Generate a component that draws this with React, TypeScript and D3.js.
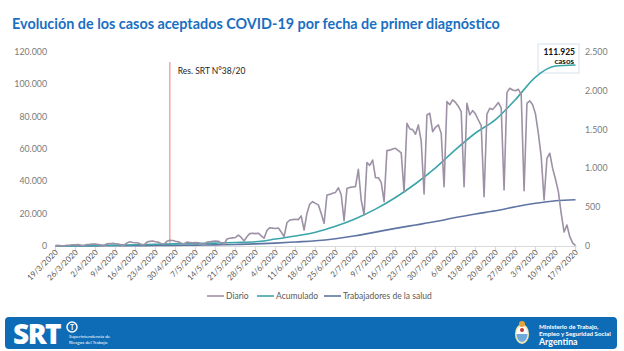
import React, { useRef, useEffect } from "react";
import * as d3 from "d3";

// daily cases (right axis), one value per day starting 19/3/2020
const diario = [
  5, 8, 4, 2,
  10, 12, 15, 14, 18, 10, 5,
  20, 22, 25, 24, 20, 12, 8,
  28, 30, 35, 30, 25, 15, 10,
  40, 55, 45, 42, 38, 20, 15,
  50, 60, 65, 55, 50, 30, 25,
  60, 75, 70, 60, 55, 35, 30,
  50, 45, 40, 45, 42, 30, 25,
  50, 55, 60, 65, 62, 40, 25,
  90, 100, 105, 110, 140, 110, 65,
  120, 160, 165, 160, 165, 130, 100,
  200, 236, 230, 225, 232, 180, 120,
  300, 335, 340, 345, 340, 387, 206,
  420, 540, 571, 550, 530, 420, 292,
  657, 665, 680, 690, 750, 660, 326,
  740, 755, 760, 765, 988, 593, 400,
  1074, 1040, 1108, 880, 880, 820, 571,
  1229, 1235, 1250, 1259, 1229, 1200, 700,
  1581, 1508, 1500, 1440, 1560, 1350, 670,
  1689, 1710, 1473, 1530, 1560, 1450, 765,
  1860, 1820, 1882, 1850, 1800, 1731, 765,
  1839, 1689, 1745, 1700, 1624, 1550, 636,
  1700, 1775, 1760, 1800, 1848, 1780, 722,
  1977, 2033, 2010, 2000, 2020, 1950, 713,
  1839, 1870, 1820, 1700, 1450, 1151, 593,
  1130, 1195, 1000, 860, 700, 420, 180,
  271, 120, 40, 5,
];

// weekly tick dates (day/month, 2020)
const tickDates = [
  "19/3", "26/3", "2/4", "9/4", "16/4", "23/4", "30/4", "7/5", "14/5",
  "21/5", "28/5", "4/6", "11/6", "18/6", "25/6", "2/7", "9/7", "16/7",
  "23/7", "30/7", "6/8", "13/8", "20/8", "27/8", "3/9", "10/9", "17/9",
];

// cumulative cases (left axis), read at each weekly tick date
const acumulado = [
  10, 150, 350, 550, 800, 1050, 1300, 1550, 1800, 2150, 2600, 4300, 6200,
  8500, 12200, 16900, 22800, 30000, 38500, 48300, 59600, 69900, 78200,
  90600, 104500, 111300, 111925,
];

// cumulative health workers (left axis), read at each weekly tick date
const trabajadores = [
  0, 30, 80, 150, 220, 300, 380, 520, 700, 950, 1300, 1800, 2500, 3200,
  4500, 6300, 8600, 10900, 13000, 15100, 17600, 19800, 21800, 24300,
  26400, 28000, 28600,
];

const leftTicks = [0, 20000, 40000, 60000, 80000, 100000, 120000];
const rightTicks = [0, 500, 1000, 1500, 2000, 2500];
const legendNames = ["Diario", "Acumulado", "Trabajadores de la salud"];
const resDate = "28/4";
const resLabel = "Res. SRT N°38/20";
const totalLabel = ["111.925", "casos"];

const colors = ["#9d91a5", "#3ba5aa", "#5f74a2"];
const font = "Lato, 'Open Sans', sans-serif";

function parseDay(s: string) {
  const [d, m] = s.split("/").map(Number);
  return new Date(2020, m - 1, d);
}

function App() {
  const svgRef = useRef<SVGSVGElement>(null);

  useEffect(() => {
    const svg = d3.select(svgRef.current);
    svg.selectAll("*").remove();

    const loc = d3.formatLocale({
      decimal: ",",
      thousands: ".",
      grouping: [3],
      currency: ["$", ""],
    });
    const fmt = loc.format(",d");

    const start = parseDay(tickDates[0]);
    const end = parseDay(tickDates[tickDates.length - 1]);
    const x = d3.scaleTime().domain([start, end]).range([55.5, 575.5]);
    const yL = d3.scaleLinear().domain([0, 120000]).range([246, 52]);
    const yR = d3.scaleLinear().domain([0, 2500]).range([246, 52]);

    svg.append("rect").attr("width", 624).attr("height", 351).attr("fill", "#fff");

    // title
    svg
      .append("text")
      .attr("x", 12)
      .attr("y", 29)
      .attr("font-family", font)
      .attr("font-weight", 700)
      .attr("font-size", 14.4)
      .attr("fill", "#1a6fc2")
      .text("Evolución de los casos aceptados COVID-19 por fecha de primer diagnóstico");

    // left axis labels
    svg
      .append("g")
      .selectAll("text")
      .data(leftTicks)
      .join("text")
      .attr("x", 47)
      .attr("y", (d) => yL(d) + 3)
      .attr("text-anchor", "end")
      .attr("font-family", font)
      .attr("font-size", 8.8)
      .attr("fill", "#7a7a7a")
      .text((d) => fmt(d));

    // right axis labels
    svg
      .append("g")
      .selectAll("text")
      .data(rightTicks)
      .join("text")
      .attr("x", 585)
      .attr("y", (d) => yR(d) + 3)
      .attr("font-family", font)
      .attr("font-size", 8.8)
      .attr("fill", "#7a7a7a")
      .text((d) => fmt(d));

    // x axis baseline + ticks
    const dates = tickDates.map(parseDay);
    svg
      .append("line")
      .attr("x1", 55)
      .attr("x2", 577)
      .attr("y1", 246.5)
      .attr("y2", 246.5)
      .attr("stroke", "#d9d9d9");
    svg
      .append("g")
      .selectAll("line")
      .data(dates)
      .join("line")
      .attr("x1", (d) => x(d))
      .attr("x2", (d) => x(d))
      .attr("y1", 246.5)
      .attr("y2", 250)
      .attr("stroke", "#d9d9d9");

    const dateFmt = d3.timeFormat("%-d/%-m/%Y");
    svg
      .append("g")
      .selectAll("text")
      .data(dates)
      .join("text")
      .attr("transform", (d) => `translate(${x(d) + 3},${253}) rotate(-45)`)
      .attr("text-anchor", "end")
      .attr("font-family", font)
      .attr("font-size", 8)
      .attr("fill", "#595959")
      .text((d) => dateFmt(d));

    // Res. SRT marker
    const rx = x(parseDay(resDate));
    svg
      .append("line")
      .attr("x1", rx)
      .attr("x2", rx)
      .attr("y1", 62)
      .attr("y2", 246)
      .attr("stroke", "#f4abab")
      .attr("stroke-width", 1.6);
    svg
      .append("text")
      .attr("x", rx + 8)
      .attr("y", 74)
      .attr("font-family", font)
      .attr("font-size", 8.5)
      .attr("fill", "#222")
      .text(resLabel);

    // total callout box (behind the lines)
    svg
      .append("rect")
      .attr("x", 538)
      .attr("y", 44)
      .attr("width", 41)
      .attr("height", 29)
      .attr("fill", "#fff")
      .attr("stroke", "#d6e2ee");

    // lines
    const dayLine = d3
      .line<number>()
      .x((d, i) => x(new Date(2020, 2, 19 + i)))
      .y((d) => yR(d));
    const weekLine = d3
      .line<number>()
      .x((d, i) => x(dates[i]))
      .y((d) => yL(d))
      .curve(d3.curveMonotoneX);

    svg
      .append("path")
      .attr("d", weekLine(trabajadores))
      .attr("fill", "none")
      .attr("stroke", colors[2])
      .attr("stroke-width", 1.6);
    svg
      .append("path")
      .attr("d", weekLine(acumulado))
      .attr("fill", "none")
      .attr("stroke", colors[1])
      .attr("stroke-width", 1.6);
    svg
      .append("path")
      .attr("d", dayLine(diario))
      .attr("fill", "none")
      .attr("stroke", colors[0])
      .attr("stroke-width", 1.6)
      .attr("stroke-linejoin", "round");

    // total callout text
    svg
      .append("text")
      .attr("x", 575)
      .attr("y", 55)
      .attr("text-anchor", "end")
      .attr("font-family", font)
      .attr("font-weight", 700)
      .attr("font-size", 8.5)
      .attr("fill", "#111")
      .text(totalLabel[0]);
    svg
      .append("text")
      .attr("x", 574)
      .attr("y", 64)
      .attr("text-anchor", "end")
      .attr("font-family", font)
      .attr("font-weight", 700)
      .attr("font-size", 8)
      .attr("fill", "#111")
      .text(totalLabel[1]);

    // legend
    const legendX = [207, 257, 324];
    const lg = svg
      .append("g")
      .selectAll("g")
      .data(legendNames)
      .join("g")
      .attr("transform", (d, i) => `translate(${legendX[i]},296)`);
    lg.append("line")
      .attr("x1", 0)
      .attr("x2", 17)
      .attr("stroke", (d, i) => colors[i])
      .attr("stroke-width", 1.6);
    lg.append("text")
      .attr("x", 19)
      .attr("y", 3)
      .attr("font-family", font)
      .attr("font-size", 8.5)
      .attr("fill", "#595959")
      .text((d) => d);

    // footer band
    const ft = svg.append("g");
    ft.append("rect")
      .attr("x", 5)
      .attr("y", 317)
      .attr("width", 612)
      .attr("height", 32)
      .attr("rx", 4)
      .attr("fill", "#0e6cb7");
    ft.append("text")
      .attr("x", 13)
      .attr("y", 344)
      .attr("font-family", "'Open Sans', sans-serif")
      .attr("font-weight", 800)
      .attr("font-size", 28)
      .attr("letter-spacing", -1.5)
      .attr("fill", "#fff")
      .text("SRT");
    ft.append("circle")
      .attr("cx", 72)
      .attr("cy", 327)
      .attr("r", 5)
      .attr("fill", "none")
      .attr("stroke", "#fff")
      .attr("stroke-width", 1.5);
    ft.append("text")
      .attr("x", 72)
      .attr("y", 330)
      .attr("text-anchor", "middle")
      .attr("font-family", font)
      .attr("font-weight", 700)
      .attr("font-size", 7)
      .attr("fill", "#fff")
      .text("T");
    ["Superintendencia de", "Riesgos del Trabajo"].forEach((t, i) => {
      ft.append("text")
        .attr("x", 69)
        .attr("y", 338 + i * 5.5)
        .attr("font-family", font)
        .attr("font-size", 4.6)
        .attr("fill", "#fff")
        .text(t);
    });

    // coat of arms (simplified)
    const ca = ft.append("g").attr("transform", "translate(522,334)");
    ca.append("ellipse").attr("rx", 7).attr("ry", 10).attr("fill", "#f3e7b0");
    ca.append("ellipse").attr("rx", 5.5).attr("ry", 8).attr("fill", "#fff");
    ca.append("path")
      .attr("d", "M-5.5,0 A5.5,8 0 0,0 5.5,0 Z")
      .attr("fill", "#6fa8dc");
    ca.append("circle").attr("cy", -10).attr("r", 3).attr("fill", "#e8a33a");
    ca.append("circle").attr("cy", -4).attr("r", 2).attr("fill", "#c0392b");

    [
      { t: "Ministerio de Trabajo,", y: 329, s: 6.2 },
      { t: "Empleo y Seguridad Social", y: 336, s: 6.2 },
      { t: "Argentina", y: 345, s: 8.8 },
    ].forEach((r) => {
      ft.append("text")
        .attr("x", 539)
        .attr("y", r.y)
        .attr("font-family", font)
        .attr("font-weight", 700)
        .attr("font-size", r.s)
        .attr("fill", "#fff")
        .text(r.t);
    });
  }, []);

  return (
    <svg
      ref={svgRef}
      width={624}
      height={351}
      style={{ position: "absolute", left: 0, top: 0 }}
    />
  );
}

export default App;
